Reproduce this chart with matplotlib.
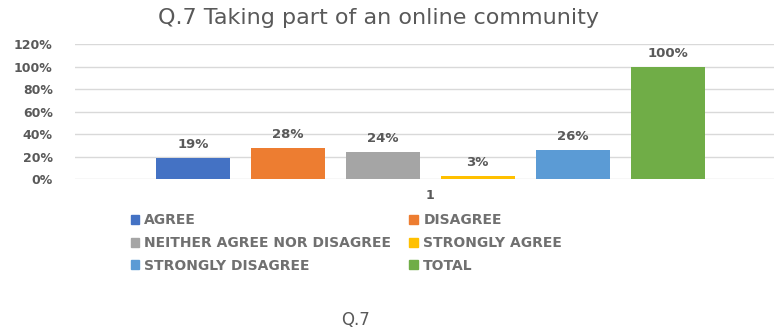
import matplotlib.pyplot as plt
from matplotlib.patches import Patch
from matplotlib.ticker import PercentFormatter

plt.rcParams['font.family'] = ['DejaVu Sans']

# Survey responses for Q.7
categories = ['AGREE', 'DISAGREE', 'NEITHER AGREE NOR DISAGREE',
              'STRONGLY AGREE', 'STRONGLY DISAGREE', 'TOTAL']
values = [0.19, 0.28, 0.24, 0.03, 0.26, 1.00]
colors = ['#4472C4', '#ED7D31', '#A5A5A5', '#FFC000', '#5B9BD5', '#70AD47']
yticks = [0, 0.2, 0.4, 0.6, 0.8, 1.0, 1.2]

text_grey = '#595959'

fig = plt.figure(figsize=(7.74, 3.32), dpi=100)
ax = fig.add_axes([75 / 774, 1 - 179 / 332, 1 - 75 / 774, 135 / 332])

n = len(values)
xs = [i - (n - 1) / 2 for i in range(n)]
bars = ax.bar(xs, values, width=0.78, color=colors, zorder=3)
for x, v in zip(xs, values):
    ax.text(x, v + 0.06, f'{v:.0%}', ha='center', va='bottom',
            fontsize=9.5, fontweight='bold', color=text_grey)

ax.set_ylim(0, 1.2)
ax.set_xlim(-3.74, 3.62)
ax.set_yticks(yticks)
ax.yaxis.set_major_formatter(PercentFormatter(1.0, decimals=0))
ax.set_xticks([0])
ax.set_xticklabels(['1'])
ax.tick_params(axis='both', length=0, labelsize=9, labelcolor=text_grey)
ax.tick_params(axis='y', pad=16)
ax.tick_params(axis='x', pad=7)
for lbl in ax.get_yticklabels() + ax.get_xticklabels():
    lbl.set_fontweight('bold')
ax.grid(axis='y', color='#D9D9D9', linewidth=1, zorder=0)
for s in ax.spines.values():
    s.set_visible(False)

fig.text(378 / 774, 1 - 18 / 332, 'Q.7 Taking part of an online community',
         ha='center', va='center', fontsize=16, color=text_grey)

# Legend fills column by column, so reorder for the row-wise layout
order = [0, 2, 4, 1, 3, 5]
handles = [Patch(color=colors[i], label=categories[i]) for i in order]
leg = fig.legend(handles=handles, ncol=2, loc='upper left',
                 bbox_to_anchor=(118 / 774, 1 - 201 / 332), frameon=False,
                 prop={'size': 10, 'weight': 'bold'},
                 handlelength=0.6, handleheight=0.6,
                 handletextpad=0.4, columnspacing=1.3, labelspacing=0.62)
for t in leg.get_texts():
    t.set_color('#707070')

fig.text(356 / 774, 1 - 320 / 332, 'Q.7', ha='center', va='center',
         fontsize=12, color=text_grey)

fig.savefig('out.png', dpi=100)
